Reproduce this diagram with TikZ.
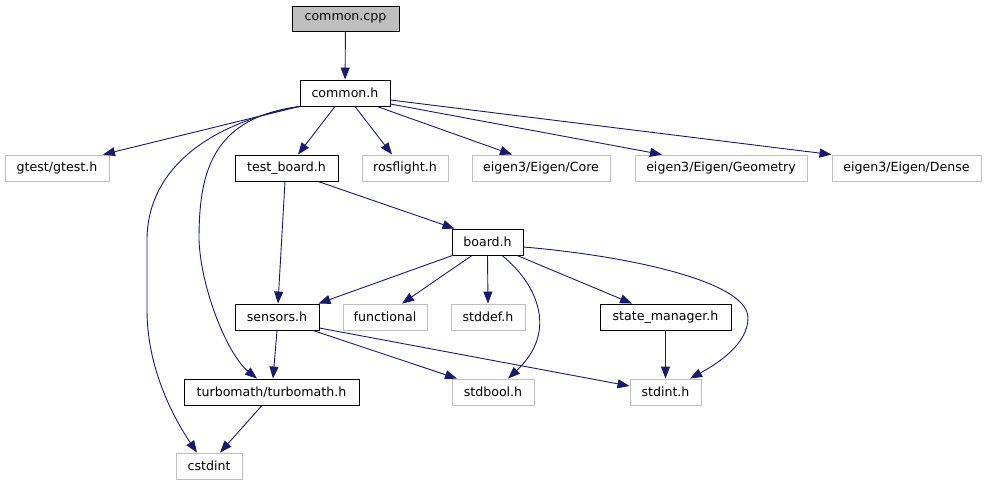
\documentclass[tikz,border=0pt]{standalone}
\usepackage{fontspec}
\setmainfont{DejaVu Sans}
\usetikzlibrary{arrows.meta,calc}
\definecolor{edgeblue}{HTML}{191970}
\definecolor{lgray}{HTML}{BFBFBF}
\begin{document}
\begin{tikzpicture}[x=1pt,y=-1pt,
  box/.style={draw=black,line width=0.9pt,minimum height=26pt,inner sep=0pt,font=\fontsize{12.6}{14}\selectfont,text=black},
  gbox/.style={box,draw=lgray},
  dep/.style={draw=edgeblue,line width=0.9pt,-{Triangle[length=12pt,width=9pt]},fill=none},
]
\useasboundingbox (0,0) rectangle (987,485);
\node[box,fill=lgray,minimum width=107pt,minimum height=25pt] (cpp) at (345.5,18.5) {common.cpp};
\node[box,minimum width=90pt] (ch) at (345,93) {common.h};
\node[gbox,minimum width=104pt] (gtest) at (57,168) {gtest/gtest.h};
\node[box,minimum width=103pt] (tb) at (286.5,168) {test\_board.h};
\node[gbox,minimum width=86pt] (ros) at (405,168) {rosflight.h};
\node[gbox,minimum width=138pt] (core) at (541,168) {eigen3/Eigen/Core};
\node[gbox,minimum width=172pt] (geom) at (721,168) {eigen3/Eigen/Geometry};
\node[gbox,minimum width=149pt] (dense) at (906.5,168) {eigen3/Eigen/Dense};
\node[box,minimum width=71pt] (board) at (487.5,242) {board.h};
\node[box,minimum width=84pt] (sens) at (277,317) {sensors.h};
\node[gbox,minimum width=84pt] (func) at (385,317) {functional};
\node[gbox,minimum width=74pt] (stddef) at (488,317) {stddef.h};
\node[box,minimum width=131pt] (sm) at (665.5,317) {state\_manager.h};
\node[box,minimum width=175pt] (turbo) at (271.5,392) {turbomath/turbomath.h};
\node[gbox,minimum width=82pt] (stdbool) at (493,392) {stdbool.h};
\node[gbox,minimum width=71pt] (stdint) at (665.5,392) {stdint.h};
\node[gbox,minimum width=66pt] (cstdint) at (209,466) {cstdint};

\draw[dep] (cpp) -- (ch);
\draw[dep] (ch.south west) -- ($(gtest.north)+(46,0)$);
\draw[dep] (ch.south west) .. controls (200,125) and (147,175) .. (147,240) -- (147,310)
  .. controls (147,370) and (175,420) .. ($(cstdint.north)+(-12,0)$);
\draw[dep] (ch.south west) .. controls (210,118) and (199,175) .. (199,240)
  .. controls (201,290) and (228,355) .. ($(turbo.north)+(-14.5,0)$);
\draw[dep] ($(ch.south)+(-10,0)$) -- ($(tb.north)+(11.5,0)$);
\draw[dep] ($(ch.south)+(10,0)$) -- ($(ros.north)+(-13,0)$);
\draw[dep] ($(ch.south)+(32,0)$) -- ($(core.north)+(-29,0)$);
\draw[dep] ($(ch.east)+(0,11)$) -- ($(geom.north)+(-59,0)$);
\draw[dep] ($(ch.east)+(0,7)$) -- (dense.north west);
\draw[dep] ($(tb.south)+(-1.5,0)$) -- ($(sens.north)+(1,0)$);
\draw[dep] ($(tb.south)+(31.5,0)$) -- ($(board.north west)+(3,0)$);
\draw[dep] ($(board.south west)+(1,0)$) -- ($(sens.north east)+(-1,0)$);
\draw[dep] ($(board.south)+(-15.5,0)$) -- ($(func.north)+(17,0)$);
\draw[dep] (board.south) -- (stddef.north);
\draw[dep] ($(board.south)+(14.5,0)$) .. controls (535,282) and (560,330) .. ($(stdbool.north)+(15,0)$);
\draw[dep] ($(board.south)+(29.5,0)$) -- ($(sm.north)+(-33.5,0)$);
\draw[dep] ($(board.east)+(0,5)$) .. controls (620,255) and (748,280) .. (748,318)
  .. controls (748,345) and (715,365) .. ($(stdint.north)+(24.5,0)$);
\draw[dep] (sens.south) -- ($(turbo.north)+(1.5,0)$);
\draw[dep] ($(sens.south)+(36,0)$) -- ($(stdbool.north)+(-36,0)$);
\draw[dep] ($(sens.east)+(0,11)$) -- ($(stdint.west)+(0,-6)$);
\draw[dep] (sm.south) -- (stdint.north);
\draw[dep] ($(turbo.south)+(-9.5,0)$) -- ($(cstdint.north)+(11,0)$);
\end{tikzpicture}
\end{document}
